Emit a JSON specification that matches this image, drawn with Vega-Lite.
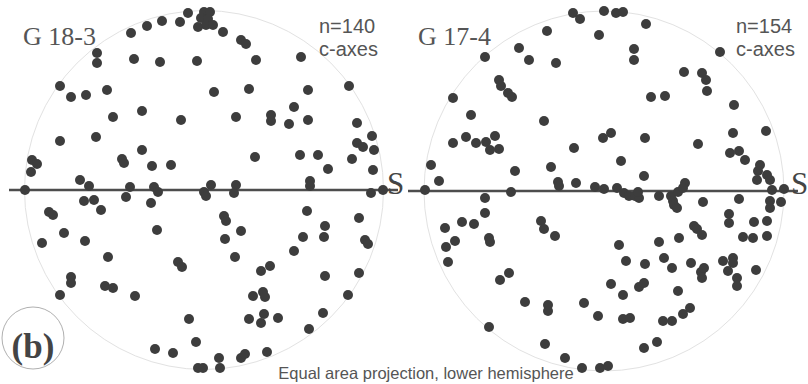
{
  "$schema": "https://vega.github.io/schema/vega-lite/v6.json",
  "padding": 0,
  "spacing": 0,
  "bounds": "flush",
  "config": {"view": {"stroke": null}},
  "datasets": {
    "left": [
      {"x":-16,"y":177},{"x":0,"y":178},{"x":6,"y":178},{"x":-3,"y":172},{"x":4,"y":171},{"x":-6,"y":163},{"x":2,"y":165},{"x":9,"y":165},
      {"x":-24,"y":168},{"x":-42,"y":169},{"x":-57,"y":164},{"x":-73,"y":157},{"x":-107,"y":137},{"x":-107,"y":127},{"x":-70,"y":131},
      {"x":-44,"y":128},{"x":-7,"y":129},{"x":-144,"y":104},{"x":-133,"y":93},{"x":-118,"y":95},{"x":-97,"y":100},{"x":-91,"y":73},
      {"x":-62,"y":79},{"x":-23,"y":70},{"x":-144,"y":49},{"x":-108,"y":53},{"x":-62,"y":40},{"x":-82,"y":31},{"x":-80,"y":27},
      {"x":-52,"y":24},{"x":-33,"y":25},{"x":-172,"y":30},{"x":-167,"y":26},{"x":-173,"y":18},{"x":-124,"y":10},{"x":-115,"y":4},
      {"x":-179,"y":0},{"x":-74,"y":3},{"x":-50,"y":3},{"x":-46,"y":-2},{"x":19,"y":158},{"x":37,"y":150},{"x":42,"y":146},
      {"x":52,"y":130},{"x":97,"y":133},{"x":10,"y":98},{"x":45,"y":101},{"x":104,"y":100},{"x":145,"y":104},{"x":90,"y":83},
      {"x":32,"y":73},{"x":67,"y":75},{"x":67,"y":69},{"x":85,"y":66},{"x":104,"y":70},{"x":153,"y":67},{"x":168,"y":54},
      {"x":153,"y":47},{"x":159,"y":43},{"x":170,"y":40},{"x":51,"y":33},{"x":96,"y":35},{"x":114,"y":35},{"x":148,"y":31},
      {"x":124,"y":21},{"x":169,"y":20},{"x":7,"y":5},{"x":32,"y":5},{"x":106,"y":9},{"x":106,"y":4},{"x":179,"y":0},
      {"x":167,"y":-3},{"x":30,"y":-3},{"x":0,"y":-2},{"x":2,"y":-6},{"x":-78,"y":-7},{"x":-53,"y":-13},{"x":-120,"y":-11},
      {"x":-110,"y":-10},{"x":-103,"y":-20},{"x":-155,"y":-22},{"x":-151,"y":-25},{"x":-47,"y":-40},{"x":-140,"y":-43},
      {"x":-162,"y":-53},{"x":-119,"y":-51},{"x":-96,"y":-67},{"x":-26,"y":-72},{"x":-22,"y":-77},{"x":-133,"y":-87},
      {"x":-133,"y":-93},{"x":-99,"y":-96},{"x":-91,"y":-98},{"x":-144,"y":-105},{"x":-69,"y":-106},{"x":-15,"y":-129},
      {"x":-8,"y":-152},{"x":-49,"y":-159},{"x":-31,"y":-163},{"x":-6,"y":-178},{"x":-1,"y":-178},{"x":103,"y":-21},
      {"x":20,"y":-26},{"x":22,"y":-31},{"x":155,"y":-28},{"x":121,"y":-36},{"x":37,"y":-41},{"x":21,"y":-49},{"x":99,"y":-47},
      {"x":120,"y":-47},{"x":161,"y":-50},{"x":164,"y":-54},{"x":90,"y":-61},{"x":31,"y":-67},{"x":57,"y":-81},{"x":66,"y":-76},
      {"x":121,"y":-86},{"x":155,"y":-83},{"x":49,"y":-106},{"x":59,"y":-102},{"x":61,"y":-107},{"x":144,"y":-105},
      {"x":45,"y":-129},{"x":60,"y":-124},{"x":57,"y":-133},{"x":74,"y":-128},{"x":119,"y":-123},{"x":105,"y":-139},
      {"x":63,"y":-162},{"x":37,"y":-168},{"x":41,"y":-164},{"x":15,"y":-168},{"x":16,"y":-178}
    ],
    "right": [
      {"x":-31,"y":178},{"x":-24,"y":172},{"x":0,"y":180},{"x":12,"y":178},{"x":19,"y":179},{"x":42,"y":167},{"x":-57,"y":160},
      {"x":-5,"y":156},{"x":-85,"y":143},{"x":-75,"y":131},{"x":-48,"y":128},{"x":-119,"y":134},{"x":-105,"y":111},{"x":-103,"y":105},
      {"x":-96,"y":98},{"x":-92,"y":94},{"x":-151,"y":93},{"x":-133,"y":76},{"x":-60,"y":70},{"x":-138,"y":54},{"x":-151,"y":48},
      {"x":-128,"y":48},{"x":-118,"y":49},{"x":-109,"y":55},{"x":-114,"y":41},{"x":-105,"y":42},{"x":-1,"y":53},{"x":7,"y":58},
      {"x":-30,"y":43},{"x":-173,"y":26},{"x":-165,"y":10},{"x":-89,"y":20},{"x":-53,"y":24},{"x":-46,"y":9},{"x":-45,"y":5},
      {"x":-28,"y":8},{"x":-179,"y":1},{"x":-93,"y":-1},{"x":-9,"y":4},{"x":0,"y":2},{"x":30,"y":142},{"x":30,"y":131},
      {"x":47,"y":94},{"x":41,"y":53},{"x":17,"y":30},{"x":40,"y":15},{"x":13,"y":3},{"x":20,"y":-2},{"x":25,"y":-5},{"x":31,"y":-5},
      {"x":35,"y":-7},{"x":34,"y":-1},{"x":116,"y":139},{"x":80,"y":119},{"x":98,"y":118},{"x":102,"y":111},{"x":103,"y":100},
      {"x":61,"y":95},{"x":130,"y":86},{"x":94,"y":47},{"x":129,"y":58},{"x":162,"y":60},{"x":126,"y":38},{"x":135,"y":40},
      {"x":141,"y":31},{"x":156,"y":26},{"x":154,"y":20},{"x":153,"y":11},{"x":163,"y":16},{"x":166,"y":11},{"x":81,"y":8},
      {"x":168,"y":1},{"x":180,"y":2},{"x":55,"y":-5},{"x":67,"y":-5},{"x":69,"y":-10},{"x":74,"y":-1},{"x":79,"y":3},
      {"x":70,"y":-14},{"x":73,"y":-17},{"x":99,"y":-11},{"x":135,"y":-8},{"x":166,"y":-10},{"x":166,"y":-17},{"x":177,"y":-11},
      {"x":-119,"y":-7},{"x":-119,"y":-22},{"x":-159,"y":-37},{"x":-142,"y":-31},{"x":-130,"y":-33},{"x":-158,"y":-56},
      {"x":-149,"y":-50},{"x":-156,"y":-71},{"x":-115,"y":-47},{"x":-114,"y":-51},{"x":-63,"y":-30},{"x":-60,"y":-38},
      {"x":-49,"y":-45},{"x":-104,"y":-89},{"x":-95,"y":-82},{"x":-79,"y":-111},{"x":-56,"y":-114},{"x":-56,"y":-120},
      {"x":-20,"y":-112},{"x":-6,"y":-125},{"x":7,"y":-93},{"x":-115,"y":-136},{"x":-59,"y":-153},{"x":-39,"y":-167},
      {"x":-22,"y":-177},{"x":-4,"y":-177},{"x":4,"y":-175},{"x":15,"y":-54},{"x":22,"y":-70},{"x":41,"y":-73},{"x":60,"y":-67},
      {"x":68,"y":-77},{"x":87,"y":-72},{"x":119,"y":-70},{"x":129,"y":-67},{"x":129,"y":-72},{"x":124,"y":-80},{"x":152,"y":-79},
      {"x":97,"y":-81},{"x":100,"y":-77},{"x":98,"y":-87},{"x":133,"y":-87},{"x":133,"y":-95},{"x":19,"y":-104},{"x":35,"y":-96},
      {"x":40,"y":-92},{"x":74,"y":-100},{"x":19,"y":-128},{"x":26,"y":-127},{"x":59,"y":-130},{"x":68,"y":-130},{"x":79,"y":-123},
      {"x":86,"y":-117},{"x":53,"y":-151},{"x":40,"y":-157},{"x":125,"y":-23},{"x":125,"y":-32},{"x":150,"y":-31},{"x":163,"y":-30},
      {"x":139,"y":-46},{"x":149,"y":-47},{"x":163,"y":-45},{"x":90,"y":-35},{"x":93,"y":-38},{"x":98,"y":-44},{"x":75,"y":-47},
      {"x":55,"y":-51}
    ]
  },
  "hconcat": [
    {
      "width": 404,
      "height": 384,
      "encoding": {
        "x": {"field": "x", "type": "quantitative", "scale": {"domain": [-203, 201], "nice": false, "zero": false}, "axis": null},
        "y": {"field": "y", "type": "quantitative", "scale": {"domain": [-194, 190], "nice": false, "zero": false}, "axis": null}
      },
      "layer": [
        {"data": {"values": [{"x": 0, "y": 0}]}, "mark": {"type": "point", "shape": "circle", "size": 128900, "filled": false, "stroke": "#e2e2e2", "strokeWidth": 1, "opacity": 1}},
        {"data": {"values": [{"x": -195, "x2": 194, "y": 0}]}, "mark": {"type": "rule", "color": "#4d4d4d", "strokeWidth": 2.5}, "encoding": {"x2": {"field": "x2"}}},
        {"data": {"name": "left"}, "mark": {"type": "circle", "size": 100, "color": "#3d3d3d", "opacity": 1}},
        {"data": {"values": [{"x": -181, "y": 153, "label": "G 18-3"}]}, "mark": {"type": "text", "align": "left", "font": "Liberation Serif", "fontSize": 26, "color": "#555555"}, "encoding": {"text": {"field": "label"}}},
        {"data": {"values": [{"x": 115, "y": 163, "label": "n=140"}, {"x": 115, "y": 140, "label": "c-axes"}]}, "mark": {"type": "text", "align": "left", "font": "Liberation Sans", "fontSize": 20, "color": "#555555"}, "encoding": {"text": {"field": "label"}}},
        {"data": {"values": [{"x": 183, "y": 5, "label": "S"}]}, "mark": {"type": "text", "align": "left", "font": "Liberation Serif", "fontSize": 31, "color": "#444444"}, "encoding": {"text": {"field": "label"}}},
        {"data": {"values": [{"x": -171, "y": -148}]}, "mark": {"type": "point", "shape": "circle", "size": 3844, "filled": false, "stroke": "#b0b0b0", "strokeWidth": 1, "opacity": 1}},
        {"data": {"values": [{"x": -171, "y": -157, "label": "(b)"}]}, "mark": {"type": "text", "align": "center", "font": "Liberation Serif", "fontWeight": "bold", "fontSize": 35, "color": "#444444"}, "encoding": {"text": {"field": "label"}}},
        {"data": {"values": [{"x": 222, "y": -184, "label": "Equal area projection, lower hemisphere"}]}, "mark": {"type": "text", "align": "center", "font": "Liberation Sans", "fontSize": 16.5, "color": "#555555"}, "encoding": {"text": {"field": "label"}}}
      ]
    },
    {
      "width": 404,
      "height": 384,
      "encoding": {
        "x": {"field": "x", "type": "quantitative", "scale": {"domain": [-199, 205], "nice": false, "zero": false}, "axis": null},
        "y": {"field": "y", "type": "quantitative", "scale": {"domain": [-193, 191], "nice": false, "zero": false}, "axis": null}
      },
      "layer": [
        {"data": {"values": [{"x": 0, "y": 0}]}, "mark": {"type": "point", "shape": "circle", "size": 129600, "filled": false, "stroke": "#e2e2e2", "strokeWidth": 1, "opacity": 1}},
        {"data": {"values": [{"x": -196, "x2": 194, "y": 0}]}, "mark": {"type": "rule", "color": "#4d4d4d", "strokeWidth": 2.5}, "encoding": {"x2": {"field": "x2"}}},
        {"data": {"name": "right"}, "mark": {"type": "circle", "size": 100, "color": "#3d3d3d", "opacity": 1}},
        {"data": {"values": [{"x": -186, "y": 154, "label": "G 17-4"}]}, "mark": {"type": "text", "align": "left", "font": "Liberation Serif", "fontSize": 26, "color": "#555555"}, "encoding": {"text": {"field": "label"}}},
        {"data": {"values": [{"x": 132, "y": 164, "label": "n=154"}, {"x": 132, "y": 141, "label": "c-axes"}]}, "mark": {"type": "text", "align": "left", "font": "Liberation Sans", "fontSize": 20, "color": "#555555"}, "encoding": {"text": {"field": "label"}}},
        {"data": {"values": [{"x": 187, "y": 6, "label": "S"}]}, "mark": {"type": "text", "align": "left", "font": "Liberation Serif", "fontSize": 31, "color": "#444444"}, "encoding": {"text": {"field": "label"}}}
      ]
    }
  ]
}
